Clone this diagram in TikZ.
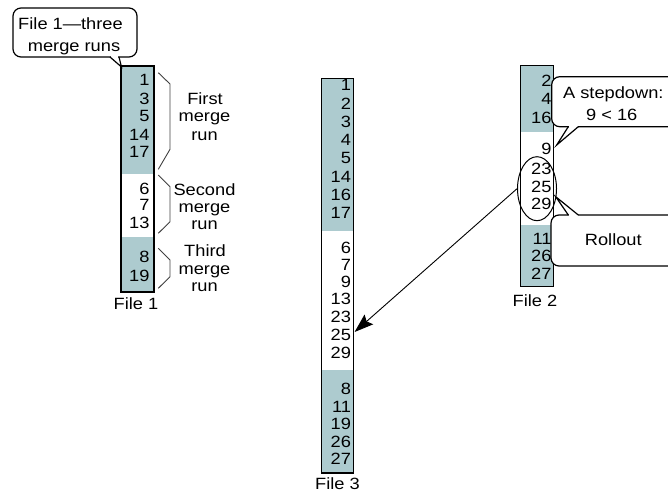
\documentclass[tikz,border=0pt]{standalone}
\usepackage{fontspec}
\setmainfont{Liberation Sans}[FakeStretch=1.12]
\usetikzlibrary{shapes.geometric,arrows.meta}
\definecolor{runfill}{RGB}{173,203,207}
\begin{document}
\begin{tikzpicture}[x=1pt,y=-1pt,
  txt/.style={inner sep=0pt, font=\fontsize{16.3}{17.7}\selectfont},
  num/.style={txt, anchor=base east},
  lbl/.style={txt, anchor=base},
  shade/.style={fill=runfill},
  col/.style={draw=black, line width=1.1pt},
  brk/.style={draw=black!75, line width=0.9pt, line join=miter},
  callout/.style={draw=black, line width=1.2pt, fill=white, rounded corners=8pt},
  ptr/.style={draw=black, line width=1.2pt, line join=miter},
  arr/.style={-{Stealth[length=19pt,width=13pt,inset=3pt]}, line width=0.9pt},
]
\useasboundingbox (0,0) rectangle (668,492);
\clip (0,0) rectangle (668,492);

% ---------- File 1 ----------
\fill[shade] (121,66) rectangle (154,174);
\fill[shade] (121,237) rectangle (154,292);
\draw[col] (121,66) rectangle (154,292);
\foreach \v/\y [count=\i] in {1/80,3/98.7,5/116,14/135,17/151.7,6/188.3,7/205,13/222.7,8/256.7,19/276}
  \node[num] (fa\i) at (149.7,\y+5.85) {\v};
\node[lbl] (fa-label) at (136,309.8) {File 1};

% brackets
\draw[brk] (158.3,72.7) -- (170,84) -- (170,149.3) -- (158.3,169.3);
\draw[brk] (158.3,175) -- (170,186.7) -- (170,221.7) -- (158.3,233.3);
\draw[brk] (158.3,248.3) -- (170,260) -- (170,276.7) -- (158.3,288.3);
\node[lbl] (r1a) at (205,105) {First};
\node[lbl] (r1b) at (204.5,121.7) {merge};
\node[lbl] (r1c) at (204.5,140) {run};
\node[lbl] (r2a) at (204.5,195) {Second};
\node[lbl] (r2b) at (204.5,212.3) {merge};
\node[lbl] (r2c) at (204.5,229.3) {run};
\node[lbl] (r3a) at (205,256.7) {Third};
\node[lbl] (r3b) at (204.5,274) {merge};
\node[lbl] (r3c) at (204.5,291.7) {run};

% ---------- File 3 ----------
\fill[shade] (321.7,78.3) rectangle (353.3,231);
\fill[shade] (321.7,370) rectangle (353.3,473);
\draw[col] (321.7,78.3) rectangle (353.3,473);
\foreach \v/\y [count=\i] in {1/85,2/103.2,3/121.5,4/139.7,5/158,14/176.2,16/194.5,17/212.7,
    6/247.7,7/265,9/281.7,13/299,23/316.7,25/335,29/353,
    8/389,11/407,19/424,26/442,27/459}
  \node[num] (fc\i) at (351.2,\y+5.85) {\v};
\node[lbl] (fc-label) at (337.5,489.3) {File 3};
\coordinate (f3in) at (354.6,332);

% ---------- File 2 ----------
\fill[shade] (520.7,65.7) rectangle (553.3,131.7);
\fill[shade] (520.7,225) rectangle (553.3,286.7);
\draw[col] (520.7,65.7) rectangle (553.3,286.7);
\foreach \v/\y [count=\i] in {2/80.7,4/98.3,16/117.3,9/148.3,23/168.3,25/186.7,29/203.3,11/238.3,26/256,27/274}
  \node[num] (fb\i) at (551.7,\y+5.85) {\v};
\node[lbl] (fb-label) at (535,306.7) {File 2};
\node[ellipse, draw=black, line width=1pt, minimum width=39pt, minimum height=64pt, inner sep=0pt] (roll) at (537,188.7) {};

% ---------- callouts ----------
\draw[callout] (13,8) rectangle (137,57);
\fill[white] (111.2,55) rectangle (118.4,58.6);
\draw[ptr] (110,57) -- (121.5,67) -- (119,57);
\node[lbl] (c1a) at (70.5,30) {File 1—three};
\node[lbl] (c1b) at (74,51.7) {merge runs};

\draw[callout] (551.7,76.7) rectangle (690,126.7);
\fill[white] (569,125) rectangle (577.6,128.5);
\draw[ptr] (568.3,126.7) -- (556.7,145) -- (578.3,126.7);
\node[lbl] (c2a) at (613.3,98.3) {A stepdown:};
\node[lbl] (c2b) at (611.7,120.7) {9 < 16};

\draw[callout] (551,215) rectangle (690,266);
\fill[white] (569,213.3) rectangle (577.5,216.7);
\draw[ptr] (568.3,215) -- (555.7,196.7) -- (578.3,215);
\node[lbl] (c3) at (613.3,245) {Rollout};

% ---------- arrow ----------
\draw[arr] (roll.west) -- (f3in);
\end{tikzpicture}
\end{document}
